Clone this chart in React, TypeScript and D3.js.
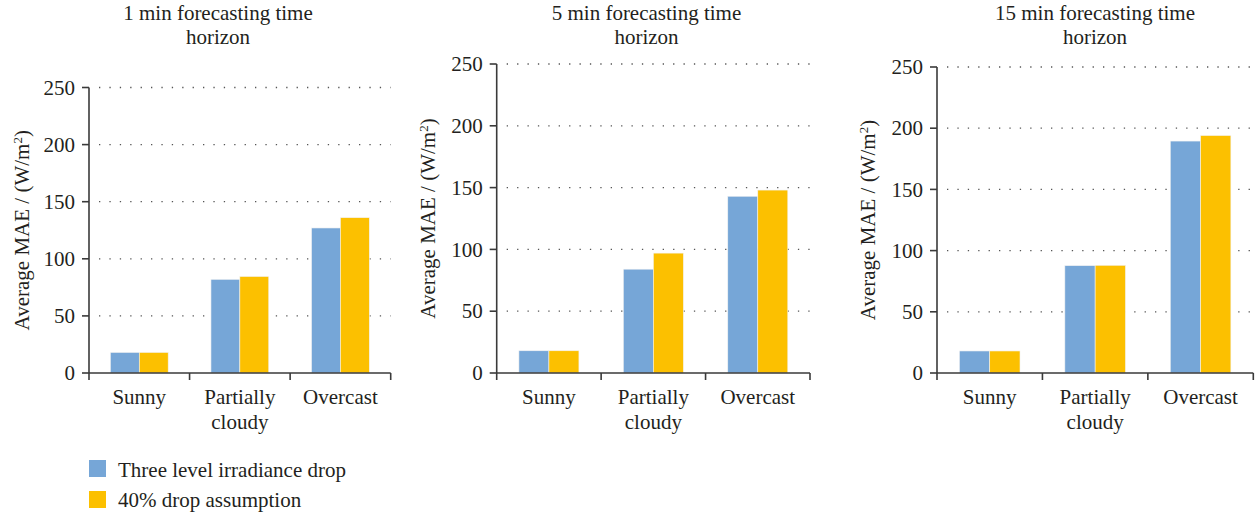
import React from "react";
import * as d3 from "d3";

const categories = ["Sunny", "Partially cloudy", "Overcast"];
const seriesNames = ["Three level irradiance drop", "40% drop assumption"];
const panelTitles = [
  ["1 min forecasting time", "horizon"],
  ["5 min forecasting time", "horizon"],
  ["15 min forecasting time", "horizon"],
];
const threeLevel1 = [18, 82, 127];
const drop40_1 = [18, 84.5, 136];
const threeLevel5 = [18, 84, 143];
const drop40_5 = [18, 97, 148];
const threeLevel15 = [18, 87.7, 189.5];
const drop40_15 = [18, 88, 194];
const yTicks = [0, 50, 100, 150, 200, 250];

const panelValues = [
  [threeLevel1, drop40_1],
  [threeLevel5, drop40_5],
  [threeLevel15, drop40_15],
];

const layouts = [
  { x0: 89, x1: 390.7, yTop: 87.5, yBot: 373, labelX: 22, titleX: 218 },
  { x0: 496.7, x1: 810, yTop: 64, yBot: 373, labelX: 428, titleX: 646.5 },
  { x0: 937, x1: 1253.3, yTop: 67, yBot: 373, labelX: 868, titleX: 1095 },
];

const colors = ["#76A6D7", "#FCC000"];
const textColor = "#231F20";
const axisColor = "#3a3a3a";
const font = "'Liberation Serif', 'Times New Roman', serif";
const fs = 21;

function Panel({ idx }: { idx: number }) {
  const L = layouts[idx];
  const vals = panelValues[idx];
  const y = d3.scaleLinear().domain([0, 250]).range([L.yBot, L.yTop]);
  const xb = d3.scaleBand<string>().domain(categories).range([L.x0, L.x1]).padding(0);
  const xs = d3
    .scaleBand<string>()
    .domain(seriesNames)
    .range([0, xb.bandwidth()])
    .paddingInner(0)
    .paddingOuter(0.74);
  const labelY = (L.yTop + L.yBot) / 2;
  return (
    <g>
      <text
        x={L.titleX}
        y={19.5}
        textAnchor="middle"
        fontFamily={font}
        fontSize={21}
        fill={textColor}
      >
        <tspan x={L.titleX}>{panelTitles[idx][0]}</tspan>
        <tspan x={L.titleX} dy={24}>{panelTitles[idx][1]}</tspan>
      </text>
      {yTicks.filter((t) => t > 0).map((t) => (
        <line
          key={"g" + t}
          x1={L.x0 + 10}
          x2={L.x1}
          y1={y(t)}
          y2={y(t)}
          stroke="#555"
          strokeWidth={1.3}
          strokeDasharray="1.3 9.1"
        />
      ))}
      {categories.map((c, ci) =>
        seriesNames.map((s, si) => {
          const v = vals[si][ci];
          return (
            <rect
              key={c + s}
              x={(xb(c) as number) + (xs(s) as number)}
              y={y(v)}
              width={xs.bandwidth()}
              height={y(0) - y(v)}
              fill={colors[si]}
              stroke="#f2f2f2"
              strokeWidth={0.6}
            />
          );
        })
      )}
      <line x1={L.x0} x2={L.x0} y1={L.yTop} y2={L.yBot} stroke={axisColor} strokeWidth={1.6} />
      <line x1={L.x0} x2={L.x1} y1={L.yBot} y2={L.yBot} stroke={axisColor} strokeWidth={1.6} />
      {yTicks.map((t) => (
        <g key={"t" + t}>
          <line x1={L.x0 - 7} x2={L.x0} y1={y(t)} y2={y(t)} stroke={axisColor} strokeWidth={1.6} />
          <text
            x={L.x0 - 14}
            y={y(t)}
            dy="0.34em"
            textAnchor="end"
            fontFamily={font}
            fontSize={fs}
            fill={textColor}
          >
            {t}
          </text>
        </g>
      ))}
      {[...categories.map((c) => xb(c) as number), L.x1].map((px, i) => (
        <line key={"xt" + i} x1={px} x2={px} y1={L.yBot} y2={L.yBot + 7} stroke={axisColor} strokeWidth={1.6} />
      ))}
      {categories.map((c) => {
        const cx = (xb(c) as number) + xb.bandwidth() / 2;
        const words = c.split(" ");
        return (
          <text key={"c" + c} x={cx} y={404} textAnchor="middle" fontFamily={font} fontSize={fs} fill={textColor}>
            {words.map((w, wi) => (
              <tspan key={wi} x={cx} dy={wi === 0 ? 0 : 25.3}>
                {w}
              </tspan>
            ))}
          </text>
        );
      })}
      <text
        transform={`translate(${L.labelX},${labelY}) rotate(-90)`}
        textAnchor="middle"
        dy="0.35em"
        fontFamily={font}
        fontSize={fs}
        fill={textColor}
      >
        Average MAE / (W/m
        <tspan baselineShift="super" fontSize={13}>2</tspan>
        )
      </text>
    </g>
  );
}

export default function App() {
  return (
    <svg
      width={1258}
      height={516}
      style={{ position: "absolute", left: 0, top: 0, display: "block", background: "#fff" }}
    >
      <rect width={1258} height={516} fill="#fff" />
      {[0, 1, 2].map((i) => (
        <Panel key={i} idx={i} />
      ))}
      {seriesNames.map((s, i) => (
        <g key={s}>
          <rect x={89} y={460 + i * 31} width={17} height={17} fill={colors[i]} />
          <text x={118} y={476.5 + i * 30.5} fontFamily={font} fontSize={fs} fill={textColor}>
            {s}
          </text>
        </g>
      ))}
    </svg>
  );
}
